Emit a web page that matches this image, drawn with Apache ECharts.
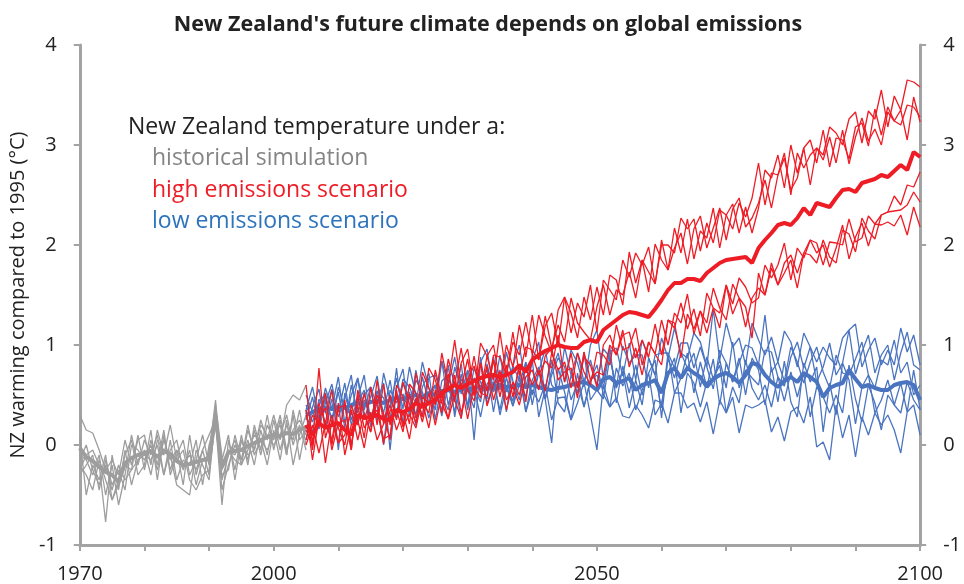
<!DOCTYPE html>
<html><head><meta charset="utf-8">
<script src="https://cdn.jsdelivr.net/npm/echarts/dist/echarts.min.js"></script>
<style>html,body{margin:0;padding:0;background:#fff}#c{width:964px;height:584px}</style>
</head><body><div id="c"></div><script>
const histStart = 1970;
const futStart = 2005;
const xTickLabels = [1970, 2000, 2050, 2100];
const chartTitle = "New Zealand's future climate depends on global emissions";
const yAxisName = "NZ warming compared to 1995 (°C)";
const legendHead = "New Zealand temperature under a:";
const legendItems = ["historical simulation", "high emissions scenario", "low emissions scenario"];

// historical simulation 1970-2005
const grayMean = [-0.03,-0.12,-0.16,-0.22,-0.27,-0.30,-0.37,-0.18,-0.13,-0.10,
-0.08,-0.06,-0.12,-0.06,-0.09,-0.16,-0.20,-0.19,-0.17,-0.15,
-0.14,0.30,-0.22,-0.07,-0.06,-0.05,-0.01,0.02,0.05,0.08,
0.10,0.09,0.12,0.11,0.15,0.18];
const grayG1 = [0.30,0.15,0.12,-0.05,-0.25,-0.15,-0.30,0.05,-0.20,0.05,
0.10,-0.20,0.15,-0.10,0.20,-0.15,-0.05,-0.35,-0.45,-0.30,
-0.25,0.40,-0.35,-0.10,0.05,-0.20,0.15,-0.05,0.25,0.05,
0.30,0.05,0.40,0.50,0.45,0.60];
const grayG2 = [0.08,-0.50,-0.20,-0.35,-0.10,-0.55,-0.40,-0.10,0.05,-0.30,
-0.20,0.15,-0.35,0.10,-0.25,-0.05,-0.40,0.10,-0.30,-0.05,
-0.30,0.25,-0.60,0.05,-0.25,0.10,-0.20,0.20,-0.05,0.30,
-0.05,0.25,-0.10,0.30,-0.15,0.20];
const grayG3 = [-0.10,-0.15,-0.30,-0.10,-0.50,-0.20,-0.60,-0.30,0.10,-0.20,
0.05,-0.10,0.10,-0.30,0.05,-0.35,-0.15,-0.20,0.05,-0.40,
0.00,0.20,-0.30,-0.25,0.10,-0.15,0.05,-0.20,0.15,-0.10,
0.25,-0.05,0.20,0.05,0.35,0.00];
const grayG4 = [-0.15,0.00,-0.25,-0.40,-0.20,-0.45,-0.20,-0.35,-0.25,0.10,
-0.25,0.05,-0.20,0.15,-0.30,-0.10,0.05,-0.30,-0.15,0.10,
-0.20,0.35,-0.15,0.10,-0.35,0.05,-0.15,0.15,-0.10,0.20,
0.05,0.30,-0.05,0.15,0.25,0.10];
const grayG5 = [-0.25,-0.10,-0.05,-0.20,-0.77,-0.10,-0.45,-0.05,-0.40,-0.15,
-0.05,-0.30,0.05,-0.05,-0.10,-0.40,-0.45,-0.50,-0.05,-0.20,
-0.35,0.30,-0.45,-0.20,0.00,-0.15,0.20,-0.10,0.05,-0.20,
0.15,-0.15,0.25,-0.20,0.10,0.30];
const grayG6 = [-0.30,-0.20,-0.10,-0.45,-0.15,-0.40,-0.25,-0.45,0.00,-0.05,
-0.15,0.00,-0.25,0.05,-0.15,-0.05,-0.20,-0.10,-0.25,-0.05,
0.10,0.25,-0.20,-0.05,-0.15,-0.20,-0.05,0.10,0.05,-0.05,
0.10,0.20,-0.10,0.35,0.05,0.15];
const grayG7 = [-0.20,-0.30,-0.45,-0.15,-0.35,-0.55,-0.35,-0.20,-0.25,-0.15,
-0.10,-0.15,0.00,-0.30,-0.05,0.05,-0.25,-0.05,-0.40,-0.15,
-0.10,0.45,-0.25,-0.05,-0.10,0.05,-0.10,-0.05,0.20,0.10,
0.00,0.10,0.30,0.00,0.20,-0.05];

// high emissions 2005-2100
const redMean = [0.20,0.10,0.22,0.17,0.20,0.22,0.15,0.10,0.30,0.27,
0.28,0.30,0.26,0.25,0.35,0.33,0.36,0.42,0.38,0.42,
0.45,0.52,0.56,0.60,0.57,0.61,0.64,0.67,0.69,0.70,
0.68,0.70,0.73,0.80,0.73,0.85,0.90,0.94,0.97,1.00,
0.98,0.97,0.97,1.03,1.05,1.03,1.15,1.20,1.25,1.30,
1.33,1.32,1.30,1.28,1.36,1.45,1.55,1.62,1.62,1.66,
1.66,1.64,1.72,1.77,1.82,1.85,1.86,1.87,1.88,1.82,
1.97,2.05,2.12,2.20,2.22,2.20,2.27,2.37,2.30,2.42,
2.40,2.38,2.47,2.55,2.56,2.53,2.62,2.64,2.66,2.70,
2.68,2.74,2.80,2.75,2.93,2.88];
const redH1 = [0.60,0.00,0.77,0.07,0.30,0.02,0.45,-0.05,0.55,0.32,
0.13,0.65,0.21,0.50,0.25,0.63,0.41,0.22,0.73,0.57,
0.40,0.92,0.61,1.05,0.57,0.86,0.49,1.02,0.89,0.65,
1.13,0.70,1.03,0.90,1.23,0.90,1.30,1.09,0.92,1.35,
1.48,1.12,1.42,1.28,1.60,1.13,1.65,1.55,1.45,1.85,
1.68,1.92,1.80,1.98,1.61,2.00,2.00,1.92,2.27,2.16,
2.26,1.94,2.22,2.02,2.35,2.30,2.16,2.42,2.28,2.47,
2.82,2.40,2.72,2.70,2.92,2.50,2.92,2.77,2.90,2.97,
2.90,3.18,3.12,3.00,3.26,3.33,3.02,3.34,3.26,3.55,
3.18,3.49,3.35,3.65,3.63,3.58];
const redH2 = [0.05,0.30,0.22,0.52,0.00,0.37,0.40,0.00,0.40,0.07,
0.58,0.20,0.61,0.20,0.50,0.18,0.61,0.52,0.28,0.77,
0.65,0.42,0.86,0.60,0.97,0.56,0.89,0.52,0.89,1.00,
0.63,1.00,0.78,1.20,0.88,1.30,0.85,1.19,1.32,1.00,
1.48,1.32,1.07,1.48,1.25,1.58,1.30,1.70,1.65,1.40,
1.93,1.62,1.85,1.53,2.01,1.85,1.75,2.17,1.92,2.26,
1.86,2.14,2.07,2.37,1.97,2.30,2.41,2.12,2.38,2.12,
2.37,2.75,2.67,2.90,2.57,3.00,2.72,2.97,3.05,2.82,
3.15,2.78,3.07,3.05,2.86,3.18,3.22,2.99,3.36,3.10,
3.38,3.24,3.20,3.40,3.38,3.28];
const redH3 = [0.35,-0.05,0.42,0.22,0.55,0.17,0.00,0.40,0.20,0.52,
0.23,0.50,0.31,0.05,0.60,0.48,0.21,0.72,0.43,0.32,
0.75,0.47,0.61,0.45,0.82,0.96,0.54,0.82,0.54,0.90,
0.88,0.70,1.13,0.70,0.98,0.95,0.85,1.29,0.97,1.20,
1.03,1.47,1.22,1.13,1.05,1.38,1.60,1.30,1.55,1.50,
1.73,1.47,1.85,1.73,1.61,2.05,1.75,1.97,2.12,1.81,
2.16,2.29,1.97,2.17,2.37,2.05,2.36,2.47,2.18,2.27,
2.42,2.65,2.37,2.70,2.87,2.55,2.67,2.97,2.60,2.97,
2.85,3.08,2.82,3.15,2.81,3.08,3.27,3.04,3.16,3.00,
3.33,3.24,3.35,3.05,3.48,3.23];
const redL1 = [0.00,0.20,-0.08,0.22,0.05,0.42,-0.10,0.20,0.25,-0.03,
0.33,0.05,0.21,0.40,0.15,0.33,0.06,0.47,0.23,0.52,
0.20,0.52,0.26,0.50,0.62,0.26,0.59,0.47,0.79,0.45,
0.68,0.35,0.63,0.50,0.78,0.60,0.75,0.54,0.92,0.75,
0.83,0.57,0.92,0.73,0.60,0.93,0.90,0.80,1.20,0.95,
0.98,1.17,0.80,1.03,0.91,1.25,1.00,1.32,1.22,1.51,
1.11,1.34,1.22,1.57,1.37,1.25,1.61,1.47,1.38,1.07,
1.72,1.50,1.77,1.60,1.82,1.90,1.72,1.92,2.05,1.92,
2.00,1.78,1.97,2.20,1.86,2.08,2.22,1.99,2.21,2.20,
2.23,2.19,2.30,2.10,2.38,2.18];
const redL2 = [0.15,0.00,0.37,-0.18,0.25,0.02,0.10,0.35,0.05,0.32,
0.13,0.45,0.01,0.35,0.35,0.13,0.51,0.27,0.43,0.17,
0.55,0.32,0.71,0.45,0.27,0.66,0.79,0.52,0.49,0.85,
0.48,0.80,0.48,0.80,0.43,0.90,0.70,0.84,0.77,1.10,
0.63,0.92,0.57,0.88,0.80,0.58,1.00,1.10,0.90,1.10,
1.13,0.87,1.05,0.88,1.21,0.90,1.25,1.17,1.42,1.16,
1.36,1.09,1.52,1.37,1.32,1.60,1.41,1.67,1.58,1.42,
1.47,1.80,1.67,1.80,2.02,1.65,1.97,1.87,2.05,2.02,
1.80,2.03,2.02,2.00,2.26,2.03,2.07,2.29,2.21,2.30,
2.33,2.34,2.35,2.40,2.53,2.43];
const redL3 = [0.35,-0.15,0.27,0.37,-0.05,0.22,0.25,-0.05,0.50,0.17,
0.28,0.35,0.06,0.10,0.55,0.18,0.31,0.17,0.48,0.42,
0.45,0.42,0.26,0.70,0.32,0.56,0.44,0.82,0.39,0.60,
0.73,0.45,0.58,0.40,0.68,0.75,0.55,0.89,0.97,0.65,
0.73,0.77,0.47,0.93,0.65,0.73,0.70,1.00,0.90,1.15,
0.78,0.97,0.70,1.03,0.91,0.80,1.25,1.22,0.87,1.31,
1.16,1.34,1.12,1.37,1.17,1.60,1.31,1.47,1.18,1.47,
1.57,1.50,1.82,1.60,1.72,1.85,1.57,1.92,1.90,1.82,
2.05,1.88,1.82,2.15,2.11,1.93,2.27,2.14,2.06,2.30,
2.33,2.49,2.40,2.60,2.58,2.73];

// low emissions 2005-2100
const blueMean = [0.30,0.33,0.36,0.37,0.36,0.38,0.37,0.40,0.42,0.40,
0.43,0.44,0.42,0.45,0.47,0.46,0.48,0.50,0.48,0.52,
0.50,0.54,0.55,0.53,0.56,0.55,0.57,0.58,0.56,0.58,
0.60,0.58,0.59,0.60,0.58,0.60,0.58,0.56,0.55,0.57,
0.58,0.60,0.62,0.63,0.60,0.55,0.66,0.68,0.62,0.64,
0.67,0.55,0.60,0.62,0.65,0.52,0.72,0.77,0.67,0.77,
0.72,0.68,0.58,0.66,0.70,0.72,0.68,0.62,0.70,0.82,
0.80,0.70,0.63,0.58,0.64,0.68,0.63,0.72,0.68,0.63,
0.48,0.57,0.60,0.62,0.75,0.66,0.58,0.60,0.57,0.55,
0.55,0.60,0.62,0.63,0.60,0.45];
const blueB1 = [0.35,0.58,0.26,0.57,0.36,0.68,0.22,0.50,0.67,0.35,
0.58,0.24,0.72,0.45,0.32,0.66,0.58,0.40,0.83,0.57,
0.35,0.84,0.60,0.88,0.51,0.75,0.05,0.83,0.96,0.53,
0.90,0.53,0.79,1.00,0.58,0.85,1.03,0.46,0.75,0.92,
0.63,0.95,0.82,0.58,1.00,1.15,0.66,0.93,0.97,0.69,
1.02,0.65,1.05,0.87,0.70,1.07,0.87,1.17,0.92,0.87,
1.12,1.03,0.78,1.36,0.85,1.22,0.98,1.07,0.80,1.22,
1.05,0.90,1.08,0.83,1.14,1.03,0.78,1.12,0.98,0.83,
0.98,0.87,0.80,1.07,1.15,1.21,0.78,0.95,1.07,0.80,
0.95,0.80,1.17,0.93,1.10,0.80];
const blueB2 = [0.05,0.38,0.56,0.17,0.46,0.33,0.62,0.20,0.42,0.55,
0.18,0.54,0.32,0.65,0.27,0.51,0.33,0.75,0.38,0.52,
0.60,0.29,0.60,0.33,0.71,0.40,0.57,0.28,0.61,0.68,
0.30,0.58,0.39,0.70,0.33,0.55,0.43,0.61,0.25,0.47,
0.48,0.25,0.42,0.63,0.30,-0.05,0.61,0.38,0.47,0.29,
0.27,0.40,0.30,0.17,0.45,0.42,0.22,0.52,0.52,0.37,
0.42,0.23,0.43,0.11,0.45,0.32,0.48,0.12,0.40,0.37,
0.40,0.45,0.13,0.28,0.04,0.33,0.38,0.22,0.48,-0.02,
0.03,-0.15,0.40,0.07,0.30,-0.12,0.28,0.10,0.32,0.20,
0.30,0.15,-0.08,0.33,0.40,0.10];
const blueB3 = [0.40,0.23,0.41,0.52,0.21,0.58,0.37,0.30,0.67,0.25,
0.48,0.69,0.27,0.40,0.67,0.36,0.78,0.50,0.28,0.67,
0.70,0.49,0.35,0.78,0.56,0.40,0.77,0.63,0.46,0.88,
0.55,0.93,0.64,0.45,0.83,0.50,0.73,0.96,0.60,0.52,
0.98,0.70,0.92,0.63,0.85,0.60,0.96,0.88,0.57,0.99,
0.82,0.90,0.90,0.57,0.90,0.92,0.92,0.77,1.02,1.02,
0.77,0.98,0.78,0.56,0.95,0.82,0.63,0.82,1.00,0.97,
0.80,1.30,0.73,0.83,0.64,0.98,0.83,0.62,0.83,0.98,
0.73,0.57,0.90,0.72,0.70,0.86,1.03,0.70,0.57,0.85,
0.80,1.05,0.72,0.83,0.50,0.60];
const blueB4 = [0.25,0.48,0.16,0.42,0.61,0.28,0.47,0.70,0.22,0.45,
0.28,0.44,0.62,-0.05,0.57,0.76,0.28,0.65,0.53,0.27,
0.50,0.84,0.40,0.63,0.26,0.75,0.57,0.43,0.81,0.53,
0.75,0.33,0.79,0.65,0.48,0.85,0.28,0.56,0.85,0.42,
0.33,0.70,0.52,0.93,0.45,0.55,0.46,0.88,0.57,0.74,
0.37,0.65,0.40,0.87,0.70,0.37,0.92,0.52,0.67,0.92,
0.52,0.83,0.58,0.86,0.40,0.82,0.63,0.87,0.50,0.87,
0.75,0.40,0.78,0.43,0.84,0.43,0.28,0.82,0.63,0.78,
0.13,0.62,0.30,0.82,0.65,0.21,0.58,0.70,0.32,0.45,
0.65,0.40,0.62,0.33,0.75,0.35];
const blueB5 = [0.30,0.13,0.46,0.32,0.56,-0.05,0.52,0.25,0.47,0.70,
0.23,0.54,0.47,0.25,0.77,0.21,0.53,0.30,0.68,0.42,
0.60,0.34,0.80,0.28,0.66,0.55,0.37,0.88,0.41,0.63,
0.35,0.68,0.39,0.60,0.83,0.40,0.73,0.46,0.02,0.77,
0.53,0.25,0.72,0.38,0.65,0.80,0.51,0.38,0.77,0.59,
0.72,0.35,0.55,0.72,0.30,0.42,0.72,0.87,0.32,0.72,
0.62,0.38,0.63,0.66,0.80,0.32,0.58,0.42,0.85,0.57,
0.45,0.60,0.38,0.68,0.44,0.73,0.48,0.72,0.28,0.58,
0.48,0.32,0.50,0.32,0.80,0.46,0.23,0.60,0.42,0.15,
0.50,0.40,0.32,0.63,0.45,0.35];
const blueB6 = [0.50,0.33,0.21,0.47,0.26,0.53,0.17,0.60,0.32,0.50,
0.58,0.39,0.00,0.55,0.42,0.61,0.48,0.20,0.58,0.72,
0.25,0.64,0.70,0.43,0.81,0.35,0.67,0.58,0.76,0.33,
0.70,0.58,0.44,0.80,0.33,0.65,0.78,0.46,0.70,0.87,
0.78,0.45,0.62,0.38,0.65,0.70,0.56,0.98,0.42,0.79,
0.52,0.80,0.50,0.72,0.85,0.27,0.87,0.67,0.92,0.77,
0.92,0.58,0.88,0.66,0.85,0.57,1.03,0.57,0.75,0.67,
0.60,0.95,0.93,0.68,0.59,0.88,1.03,0.77,0.98,0.63,
0.78,1.02,0.70,0.82,1.15,0.71,0.93,1.10,0.72,0.90,
1.00,0.65,0.92,1.13,0.80,0.75];

const C_GRAY = '#9d9d9d', C_RED = '#ee1c25', C_BLUE = '#4a74c0';
const FONT = '"Open Sans"';

function pairs(start, arr) { return arr.map((v, i) => [start + i, v]); }
const series = [];
function addGroup(start, members, mean, color, thinW, thickW) {
  members.forEach(m => series.push({
    type: 'line', data: pairs(start, m), symbol: 'none', showSymbol: false,
    lineStyle: { color: color, width: thinW }, itemStyle: { color: color },
    silent: true, animation: false
  }));
  series.push({
    type: 'line', data: pairs(start, mean), symbol: 'none', showSymbol: false,
    lineStyle: { color: color, width: thickW }, itemStyle: { color: color },
    silent: true, animation: false
  });
}
addGroup(histStart, [grayG1, grayG2, grayG3, grayG4, grayG5, grayG6, grayG7], grayMean, C_GRAY, 1.3, 4);
addGroup(futStart, [blueB1, blueB2, blueB3, blueB4, blueB5, blueB6], blueMean, C_BLUE, 1.3, 4);
addGroup(futStart, [redH1, redH2, redH3, redL1, redL2, redL3], redMean, C_RED, 1.3, 4);

const axisGray = '#a3a3a3';
function yAxisCfg(pos, withName) {
  const c = {
    type: 'value', min: -1, max: 4, interval: 1, position: pos,
    axisLine: { show: true, onZero: false, lineStyle: { color: axisGray, width: 3 } },
    axisTick: { show: true, length: 6, lineStyle: { color: axisGray, width: 2 } },
    splitLine: { show: false },
    axisLabel: { fontSize: 20, color: '#222', fontFamily: FONT, margin: 23 }
  };
  if (withName) {
    c.name = yAxisName; c.nameLocation = 'middle'; c.nameGap = 42;
    c.nameTextStyle = { fontSize: 20, color: '#222', fontFamily: FONT };
  }
  return c;
}

const chart = echarts.init(document.getElementById('c'));
chart.setOption({
  animation: false,
  backgroundColor: '#fff',
  textStyle: { fontFamily: FONT },
  grid: { left: 75, right: 42, top: 45, bottom: 39, containLabel: false },
  xAxis: {
    type: 'value', min: 1970, max: 2100, interval: 10,
    axisLine: { show: true, onZero: false, lineStyle: { color: axisGray, width: 3 } },
    axisTick: { show: true, length: 6, lineStyle: { color: axisGray, width: 2 } },
    splitLine: { show: false },
    axisLabel: {
      fontSize: 20, color: '#222', fontFamily: FONT, margin: 19,
      showMinLabel: true, showMaxLabel: true,
      formatter: v => xTickLabels.includes(v) ? String(v) : ''
    }
  },
  yAxis: [yAxisCfg('left', true), yAxisCfg('right', false)],
  series: series,
  graphic: [
    { type: 'text', x: 488, y: 25, style: { text: chartTitle, fontSize: 21.5, fontWeight: 'bold', fill: '#222', fontFamily: FONT, textAlign: 'center', textVerticalAlign: 'middle' } },
    { type: 'text', x: 128, y: 127, style: { text: legendHead, fontSize: 23, fill: '#222', fontFamily: FONT, textVerticalAlign: 'middle' } },
    { type: 'text', x: 152, y: 158, style: { text: legendItems[0], fontSize: 23, fill: '#858585', fontFamily: FONT, textVerticalAlign: 'middle' } },
    { type: 'text', x: 152, y: 190, style: { text: legendItems[1], fontSize: 23, fill: '#ee1c25', fontFamily: FONT, textVerticalAlign: 'middle' } },
    { type: 'text', x: 152, y: 221, style: { text: legendItems[2], fontSize: 23, fill: '#2e74bd', fontFamily: FONT, textVerticalAlign: 'middle' } }
  ]
});
</script></body></html>
